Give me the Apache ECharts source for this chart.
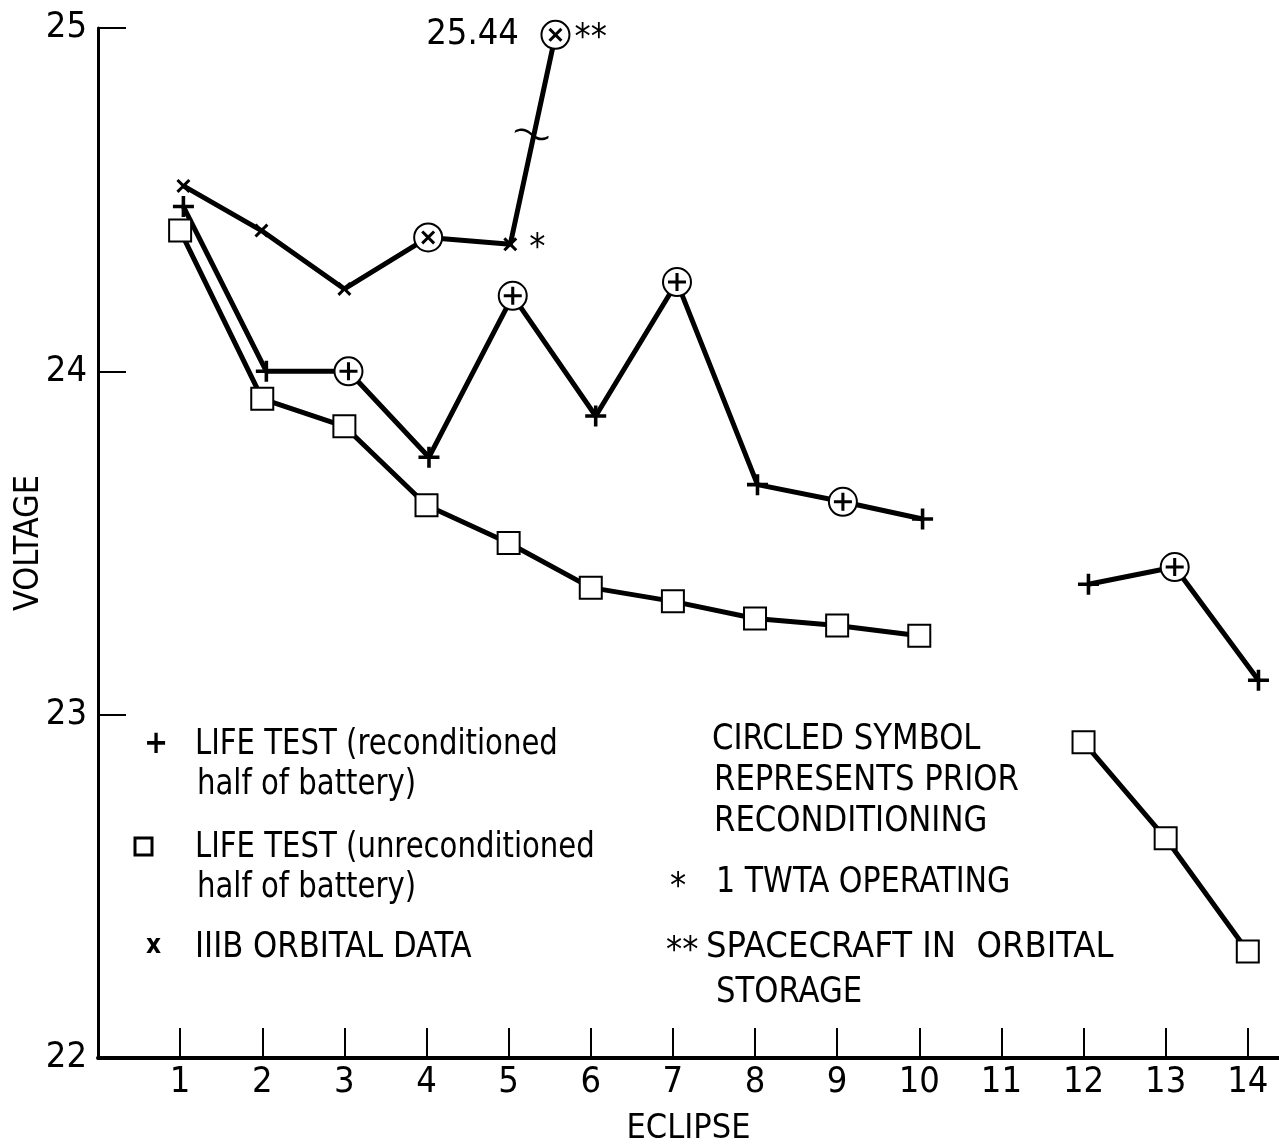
<!DOCTYPE html>
<html>
<head>
<meta charset="utf-8">
<script src="https://cdn.jsdelivr.net/npm/echarts@6/dist/echarts.min.js"></script>
<style>
html, body { margin: 0; background: #fff; }
#main { width: 1279px; height: 1148px; }
</style>
</head>
<body>
<div id="main"></div>
<script>
var FONT = '"Liberation Sans Narrow", "DejaVu Sans Condensed", "Liberation Sans", sans-serif';

// eclipse tick values
var eclipses = [1, 2, 3, 4, 5, 6, 7, 8, 9, 10, 11, 12, 13, 14];
var voltTicks = [22, 23, 24, 25];

// life test, reconditioned half of battery (+)
var reconX = [1.04, 2.05, 3.05, 4.03, 5.05, 6.06, 7.05, 8.03, 9.07, 10.04, 11, 12.06, 13.11, 14.13];
var reconV = [24.48, 24.0, 24.0, 23.75, 24.22, 23.87, 24.26, 23.67, 23.62, 23.57, null, 23.38, 23.43, 23.10];
var reconCircled = [0, 0, 1, 0, 1, 0, 1, 0, 1, 0, 0, 0, 1, 0];

// life test, unreconditioned half of battery (square)
var unreconX = [1, 2, 3, 4, 5, 6, 7, 8, 9, 10, 11, 12, 13, 14];
var unreconV = [24.41, 23.92, 23.84, 23.61, 23.50, 23.37, 23.33, 23.28, 23.26, 23.23, null, 22.92, 22.64, 22.31];

// IIIB orbital data (x); last point is 25.44, drawn at the top of a broken scale
var orbX = [1.04, 1.99, 3.0, 4.02, 5.02, 5.57];
var orbV = [24.54, 24.41, 24.24, 24.39, 24.37, 24.98];
var orbCircled = [0, 0, 0, 1, 0, 1];
var orbNote = ['', '', '', '', '*', '**'];
var orbValueText = ['', '', '', '', '', '25.44'];
var breakAt = [5.28, 24.69];

var PLUS = 'path://M8.3,0H11.7V8.3H20V11.7H11.7V20H8.3V11.7H0V8.3H8.3Z';
var CROSS = 'path://M0,3L3,0L10,7L17,0L20,3L13,10L20,17L17,20L10,13L3,20L0,17L7,10Z';
var BREAK = 'path://M0,6C6,1 12,1 18,4L22,6C28,9 34,9 40,4L40,7C34,12 28,12 22,9L18,7C12,4 6,4 0,9Z';

function pairs(xs, ys) {
    return xs.map(function (x, i) { return [x, ys[i] == null ? '-' : ys[i]]; });
}
function pick(xs, ys, flags) {
    var out = [];
    xs.forEach(function (x, i) { if (flags[i]) out.push([x, ys[i]]); });
    return out;
}

var reconData = pairs(reconX, reconV);
var reconPts = reconData.filter(function (d) { return d[1] !== '-'; });
var unreconData = pairs(unreconX, unreconV);
var orbData = pairs(orbX, orbV).map(function (d, i) {
    return { value: d, note: orbNote[i], txt: orbValueText[i] };
});

var solid = { color: '#000', opacity: 1 };

function txt(x, y, s, size, sx) {
    return {
        type: 'text', x: x, y: y, scaleX: sx || 1, originX: 0, originY: 0,
        style: { text: s, font: size + 'px ' + FONT, fill: '#000', verticalAlign: 'middle' }
    };
}

var myChart = echarts.init(document.getElementById('main'));

var option = {
    backgroundColor: '#fff',
    animation: false,
    grid: { left: 98, right: 0, top: 28, bottom: 90, outerBoundsMode: 'none' },
    xAxis: {
        type: 'value',
        min: 0,
        max: 14.38,
        name: 'ECLIPSE',
        nameLocation: 'middle',
        nameGap: 54,
        nameMoveOverlap: false,
        nameTextStyle: { fontFamily: FONT, fontSize: 34, color: '#000' },
        axisLine: { lineStyle: { color: '#000', width: 4 } },
        axisTick: { inside: true, length: 30, customValues: eclipses, lineStyle: { color: '#000', width: 2 } },
        axisLabel: { customValues: eclipses, fontFamily: FONT, fontSize: 36, color: '#000', margin: 7 },
        splitLine: { show: false }
    },
    yAxis: {
        type: 'value',
        min: 22,
        max: 25,
        interval: 1,
        name: 'VOLTAGE',
        nameLocation: 'middle',
        nameGap: 52,
        nameMoveOverlap: false,
        nameTextStyle: { fontFamily: FONT, fontSize: 34, color: '#000' },
        axisLine: { show: true, lineStyle: { color: '#000', width: 3 } },
        axisTick: { show: true, inside: true, length: 28, customValues: voltTicks.slice(1), lineStyle: { color: '#000', width: 2 } },
        axisLabel: { fontFamily: FONT, fontSize: 36, color: '#000', margin: 11 },
        splitLine: { show: false }
    },
    series: [
        // + line
        {
            type: 'line', data: reconData, showSymbol: false, z: 2,
            lineStyle: { color: '#000', width: 5 }
        },
        // square line
        {
            type: 'line', data: unreconData, symbol: 'emptyRect', symbolSize: 22, z: 2,
            itemStyle: { color: '#000', borderWidth: 3 },
            lineStyle: { color: '#000', width: 5 }
        },
        // x line
        {
            type: 'line', data: orbData, showSymbol: false, z: 2,
            lineStyle: { color: '#000', width: 5 }
        },
        // break mark on the x line
        {
            type: 'scatter', data: [breakAt], symbol: BREAK, symbolSize: [34, 8], symbolRotate: -12, z: 3,
            itemStyle: solid
        },
        // circles (prior reconditioning)
        {
            type: 'scatter', z: 3,
            data: pick(reconX, reconV, reconCircled).concat(pick(orbX, orbV, orbCircled)),
            symbol: 'emptyCircle', symbolSize: 28,
            itemStyle: { color: '#000', opacity: 1, borderWidth: 3 }
        },
        // + markers
        {
            type: 'scatter', z: 4, data: reconPts, symbol: PLUS,
            symbolSize: function (v) {
                for (var i = 0; i < reconX.length; i++) {
                    if (reconX[i] === v[0] && reconCircled[i]) return 18;
                }
                return 21;
            },
            itemStyle: solid
        },
        // x markers with notes
        {
            type: 'scatter', z: 4, data: orbData, symbol: CROSS, symbolSize: 14,
            itemStyle: solid,
            label: {
                show: true, position: 'right', distance: 12, offset: [0, 4],
                fontFamily: FONT, fontSize: 36, color: '#000',
                formatter: function (p) { return p.data.note; }
            }
        },
        // 25.44 value text
        {
            type: 'scatter', z: 4, data: orbData.slice(5), symbolSize: 1,
            itemStyle: solid,
            label: {
                show: true, position: 'left', distance: 36,
                fontFamily: FONT, fontSize: 36, color: '#000',
                formatter: function (p) { return p.data.txt; }
            }
        }
    ],
    graphic: [
        { type: 'text', x: 144, y: 745, style: { text: '+', font: 'bold 32px ' + FONT, fill: '#000', verticalAlign: 'middle' } },
        txt(195, 745, 'LIFE TEST (reconditioned', 36, 0.9),
        txt(197, 785, 'half of battery)', 36, 0.9),
        { type: 'rect', shape: { x: 135, y: 838, width: 17, height: 17 }, style: { fill: '#fff', stroke: '#000', lineWidth: 3 } },
        txt(195, 848, 'LIFE TEST (unreconditioned', 36, 0.9),
        txt(197, 888, 'half of battery)', 36, 0.9),
        { type: 'text', x: 146, y: 946, style: { text: 'x', font: 'bold 26px ' + FONT, fill: '#000', verticalAlign: 'middle' } },
        txt(195, 948, 'IIIB ORBITAL DATA', 36, 0.95),

        txt(712, 740, 'CIRCLED SYMBOL', 36, 0.95),
        txt(714, 781, 'REPRESENTS PRIOR', 36, 0.95),
        txt(714, 822, 'RECONDITIONING', 36, 0.95),
        txt(670, 888, '*', 36, 1),
        txt(716, 883, '1 TWTA OPERATING', 36, 0.93),
        txt(666, 952, '**', 36, 1),
        txt(706, 948, 'SPACECRAFT IN  ORBITAL', 36, 1.0),
        txt(716, 993, 'STORAGE', 36, 0.95)
    ]
};

myChart.setOption(option);
</script>
</body>
</html>
